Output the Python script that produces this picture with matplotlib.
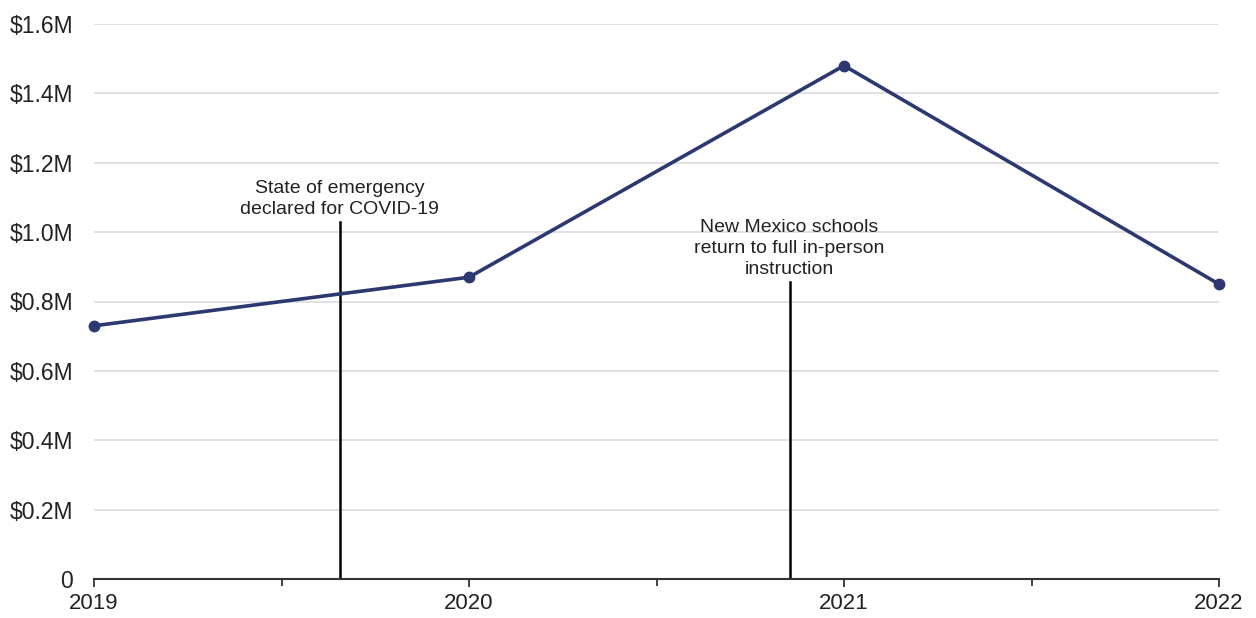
import matplotlib
matplotlib.use("Agg")
import matplotlib.pyplot as plt
from matplotlib.ticker import FuncFormatter, MultipleLocator

plt.rcParams['font.family'] = ['Liberation Sans', 'DejaVu Sans']

years = [2019, 2020, 2021, 2022]
spending = [0.73, 0.87, 1.48, 0.85]  # millions of dollars

events = [
    (2019.655, 1.03, "State of emergency\ndeclared for COVID-19"),
    (2020.855, 0.855, "New Mexico schools\nreturn to full in-person\ninstruction"),
]

y_ticks = [0, 0.2, 0.4, 0.6, 0.8, 1.0, 1.2, 1.4, 1.6]

fig = plt.figure(figsize=(12.56, 6.18), dpi=100)
ax = fig.add_axes([94 / 1256, 1 - 579 / 618, (1219 - 94) / 1256, (579 - 24) / 618])

ax.set_xlim(2019, 2022)
ax.set_ylim(0, 1.6)

for y in y_ticks[1:]:
    ax.axhline(y, color="#dcdcdc", lw=1.2, zorder=0)

ax.plot(years, spending, color="#2b3970", lw=2.6, marker="o", ms=7.5, zorder=3,
        solid_capstyle="round", clip_on=False)

for x, top, label in events:
    ax.plot([x, x], [0, top], color="black", lw=1.8, zorder=2)
    ax.text(x, top + 0.012, label, ha="center", va="bottom", fontsize=14,
            color="#222222", linespacing=1.3)

ax.set_yticks(y_ticks)
ax.yaxis.set_major_formatter(FuncFormatter(lambda v, p: "0" if v == 0 else f"${v:.1f}M"))
ax.set_xticks(years)
ax.set_xticklabels([str(y) for y in years])
ax.xaxis.set_minor_locator(MultipleLocator(0.5))

for s in ["top", "right", "left"]:
    ax.spines[s].set_visible(False)
ax.spines["bottom"].set_color("#333333")
ax.spines["bottom"].set_linewidth(1.5)

ax.tick_params(axis="y", length=0, pad=15, labelsize=16.5, labelcolor="#222222")
ax.tick_params(axis="x", which="major", length=6, width=1.3, color="#333333",
               labelsize=16, labelcolor="#222222", pad=4)
ax.tick_params(axis="x", which="minor", length=5, width=1.3, color="#333333")

fig.savefig("out.png", dpi=100, facecolor="white")
